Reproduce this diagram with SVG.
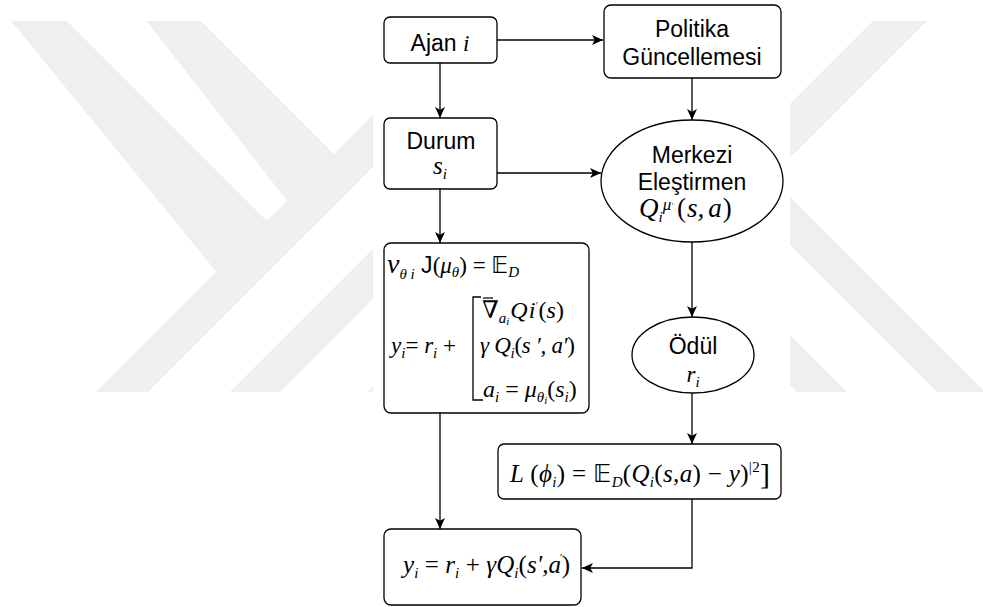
<svg xmlns="http://www.w3.org/2000/svg" width="983" height="607" viewBox="0 0 983 607">
<style>
.wm{fill:#efefef}
.box{fill:#ffffff;stroke:#000;stroke-width:1.3}
.edge{fill:none;stroke:#000;stroke-width:1.3}
.lbl{font-family:"Liberation Sans",Arial,sans-serif;font-size:23px;fill:#000;font-style:normal}
.m{font-family:"Liberation Serif","DejaVu Serif",serif;font-style:italic;font-size:23px;fill:#000}
.r{font-style:normal}
.sb{font-size:15px}
.ss{font-size:11px}
.ds{font-family:"DejaVu Sans",sans-serif;font-style:normal}
</style>
<defs>
<marker id="ah" viewBox="0 0 10 10" refX="10" refY="5" markerWidth="11" markerHeight="11" markerUnits="userSpaceOnUse" orient="auto">
<path d="M0,0.5 L10,5 L0,9.5 L2.5,5 z" fill="#000"/>
</marker>
<clipPath id="wmc">
<rect x="0" y="21" width="373" height="371"/>
<rect x="790" y="21" width="193" height="371"/>
</clipPath>
</defs>
<rect width="983" height="607" fill="#fff"/>
<g id="watermark" clip-path="url(#wmc)">
<polygon class="wm" points="-6,0 46,0 280,234 228,286"/>
<polygon class="wm" points="130,0 180,0 360,180 310,230"/>
<polygon class="wm" points="488,0 540,0 0,540 -52,540"/>
<polygon class="wm" points="622,0 672,0 132,540 82,540"/>
<polygon class="wm" points="759,0 810,0 270,540 219,540"/>
<polygon class="wm" points="894,0 948,0 548,400 494,400"/>
<polygon class="wm" points="545,0 593,0 1000,407 952,407"/>
<polygon class="wm" points="405,0 455,0 900,445 850,445"/>
</g>
<g id="connectors">
<path class="edge" d="M497,40 H603" marker-end="url(#ah)"/>
<path class="edge" d="M440,63 V118" marker-end="url(#ah)"/>
<path class="edge" d="M692,78 V120" marker-end="url(#ah)"/>
<path class="edge" d="M497,173 H601" marker-end="url(#ah)"/>
<path class="edge" d="M440,189 V243" marker-end="url(#ah)"/>
<path class="edge" d="M692,242 V317" marker-end="url(#ah)"/>
<path class="edge" d="M692,393 V444" marker-end="url(#ah)"/>
<path class="edge" d="M440,413 V529" marker-end="url(#ah)"/>
<path class="edge" d="M692,499 V568 H582" marker-end="url(#ah)"/>
</g>
<g id="ajan">
<rect class="box" x="384" y="17" width="113" height="46" rx="6"/>
<text class="lbl" x="440" y="51" text-anchor="middle">Ajan <tspan class="m">i</tspan></text>
</g>
<g id="politika">
<rect class="box" x="604" y="5" width="177" height="73" rx="7"/>
<text class="lbl" x="692" y="37" text-anchor="middle">Politika</text>
<text class="lbl" x="692" y="65" text-anchor="middle">Güncellemesi</text>
</g>
<g id="durum">
<rect class="box" x="384" y="118" width="113" height="71" rx="6"/>
<text class="lbl" x="441" y="149" text-anchor="middle">Durum</text>
<text class="m" x="440" y="174" style="font-size:25px" text-anchor="middle">s<tspan class="sb" dy="5">i</tspan></text>
</g>
<g id="merkezi">
<ellipse class="box" cx="692" cy="181" rx="91" ry="61"/>
<text class="lbl" x="692" y="163" text-anchor="middle">Merkezi</text>
<text class="lbl" x="692" y="190" text-anchor="middle">Eleştirmen</text>
<text class="m" x="639" y="217" style="font-size:27px">Q<tspan class="sb" dy="5">i</tspan><tspan font-size="17" dy="-12">μ</tspan><tspan font-size="8" dy="-1">′</tspan><tspan class="r" dy="8" dx="4">(</tspan><tspan dx="1">s,</tspan><tspan dx="4">a</tspan><tspan class="r" dx="1">)</tspan></text>
</g>
<g id="politika-gradyan">
<rect class="box" x="384" y="243" width="205" height="170" rx="7"/>
<text class="m" x="387" y="273"><tspan font-size="28">ν</tspan><tspan class="sb" dy="6">θ i</tspan><tspan class="lbl" dy="-6" font-size="21"> J</tspan><tspan class="r">(</tspan>μ<tspan class="sb" dy="4">θ</tspan><tspan class="r" dy="-4">) = </tspan><tspan class="ds r">𝔼</tspan><tspan class="sb" dy="4">D</tspan></text>
<line x1="483" y1="298" x2="493" y2="298" stroke="#000" stroke-width="1.2"/>
<text class="m" x="482" y="318" style="font-size:24px"><tspan class="r">∇</tspan><tspan class="sb" dy="5">a</tspan><tspan class="ss" dy="2">i</tspan><tspan dy="-7" dx="1">Q</tspan><tspan dx="1">i</tspan><tspan font-size="10" dy="-9">′</tspan><tspan class="r" dy="9" dx="1">(</tspan>s<tspan class="r">)</tspan></text>
<text class="m" x="391" y="353">y<tspan class="sb" dy="5">i</tspan><tspan class="r" dy="-5">= </tspan>r<tspan class="sb" dy="5">i</tspan><tspan class="r" dy="-5"> +</tspan></text>
<path class="edge" d="M481,297 H473 V400 H483"/>
<text class="m" x="480" y="353" textLength="95" lengthAdjust="spacing">γ Q<tspan class="sb" dy="5">i</tspan><tspan class="r" dy="-5">(</tspan>s ′, a′<tspan class="r">)</tspan></text>
<text class="m" x="483" y="397" style="font-size:24px">a<tspan class="sb" dy="5">i</tspan><tspan class="r" dy="-5"> = </tspan>μ<tspan class="sb" dy="5">θ</tspan><tspan class="ss" dy="2">i</tspan><tspan class="r" dy="-7">(</tspan>s<tspan class="sb" dy="5">i</tspan><tspan class="r" dy="-5">)</tspan></text>
</g>
<g id="odul">
<ellipse class="box" cx="693" cy="355" rx="61" ry="38"/>
<text class="lbl" x="693" y="354" text-anchor="middle">Ödül</text>
<text class="m" x="693" y="382" text-anchor="middle">r<tspan class="sb" dy="5">i</tspan></text>
</g>
<g id="kayip">
<rect class="box" x="498" y="444" width="283" height="55" rx="6"/>
<text class="m" x="510" y="482" style="font-size:25px" textLength="260" lengthAdjust="spacing">L <tspan class="r">(</tspan>ϕ<tspan class="sb" dy="5">i</tspan><tspan class="r" dy="-5">) = </tspan><tspan class="ds r">𝔼</tspan><tspan class="sb" dy="5">D</tspan><tspan class="r" dy="-5">(</tspan>Q<tspan class="sb" dy="5">i</tspan><tspan class="r" dy="-5">(</tspan>s,a<tspan class="r">) − </tspan>y<tspan class="r">)</tspan><tspan class="r sb" dy="-10">|2</tspan><tspan class="r" font-size="30" dy="12">]</tspan></text>
</g>
<g id="hedef">
<rect class="box" x="384" y="529" width="197" height="76" rx="7"/>
<text class="m" x="403" y="573" style="font-size:25px" textLength="167" lengthAdjust="spacing">y<tspan class="sb" dy="5">i</tspan><tspan class="r" dy="-5"> = </tspan>r<tspan class="sb" dy="5">i</tspan><tspan class="r" dy="-5"> + </tspan>γQ<tspan class="sb" dy="5">i</tspan><tspan class="r" dy="-5">(</tspan>s′,a<tspan font-size="11" dx="-2" dy="-12">′</tspan><tspan class="r" dy="12">)</tspan></text>
</g>
</svg>
